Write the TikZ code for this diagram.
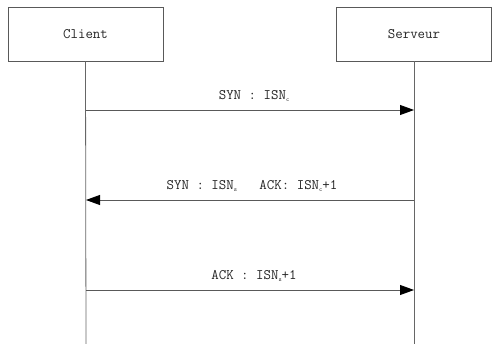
\documentclass[tikz,border=0pt]{standalone}
\usetikzlibrary{arrows.meta}
\newcommand{\sbs}[1]{\raisebox{-0.45ex}{\fontsize{6}{6}\selectfont #1}}
\begin{document}
\begin{tikzpicture}[x=1pt,y=-1pt,
  actor/.style={draw=black!65,line width=0.8pt,minimum width=155pt,minimum height=54pt,inner sep=0pt,font=\ttfamily\fontsize{14.5}{16}\selectfont,text=black!85},
  life/.style={draw=black!60,line width=0.8pt},
  msg/.style={draw=black!65,line width=0.8pt,-{Triangle[length=14pt,width=10pt,black]}},
  lbl/.style={font=\ttfamily\fontsize{14.5}{16}\selectfont,text=black!85,inner sep=0pt}]
\useasboundingbox (0,0) rectangle (500,344);
\node[actor] (c) at (85.5,34) {Client};
\node[actor] (s) at (414,34) {Serveur};
\coordinate (cb) at (86,344);
\coordinate (sb) at (414,344);
\draw[life] (c.south) -- (cb);
\draw[life] (s.south) -- (sb);
\coordinate (c1) at (86,110); \coordinate (s1) at (414,110);
\coordinate (c2) at (86,200); \coordinate (s2) at (414,200);
\coordinate (c3) at (86,290); \coordinate (s3) at (414,290);
\draw[msg] (c1) -- (s1);
\draw[msg] (s2) -- (c2);
\draw[msg] (c3) -- (s3);
\node[lbl] (l1) at (254,96) {SYN : ISN\sbs{c}};
\node[lbl] (l2) at (252,186) {SYN : ISN\sbs{s}\ \ \ ACK: ISN\sbs{c}+1};
\node[lbl] (l3) at (254,276) {ACK : ISN\sbs{s}+1};
\end{tikzpicture}
\end{document}
